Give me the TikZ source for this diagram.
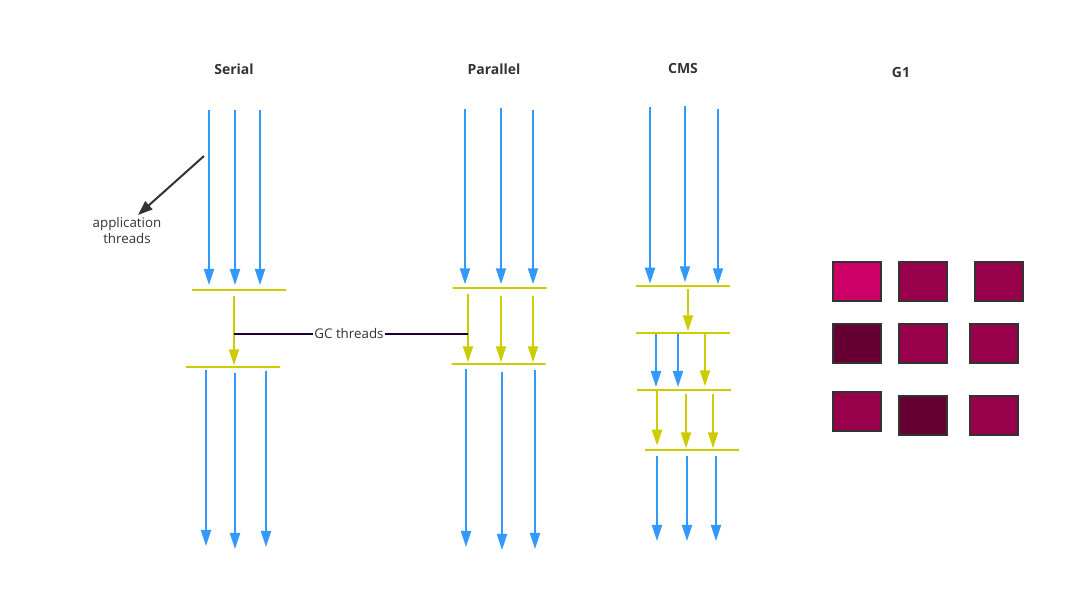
\documentclass[tikz,border=0pt]{standalone}
\usepackage{fontspec}
\setmainfont{Open Sans}
\usetikzlibrary{arrows.meta,positioning}
\definecolor{thread}{HTML}{3399FF}
\definecolor{gcline}{HTML}{CCCC00}
\definecolor{ink}{HTML}{333333}
\definecolor{gcnote}{HTML}{1A0033}
\definecolor{regionA}{HTML}{CC0066}
\definecolor{regionB}{HTML}{99004C}
\definecolor{regionC}{HTML}{660033}

\begin{document}
\begin{tikzpicture}[x=0.75pt,y=-0.75pt,>={Triangle[length=12pt,width=7.5pt]},font=\fontsize{10}{12}\selectfont,text=ink]
		\tikzstyle{title}=[font=\bfseries\fontsize{10.5}{12}\selectfont]
		\tikzstyle{app}=[->, thread, line width=1.5pt]
		\tikzstyle{gc}=[->, gcline, line width=1.5pt]
		\tikzstyle{bar}=[draw=gcline, line width=1.5pt, minimum height=0pt, inner sep=0pt, minimum width=70.5pt]
		\tikzstyle{region}=[rectangle, draw=ink, line width=1.5pt, inner sep=0pt, outer sep=0pt, minimum width=36pt, minimum height=29.25pt]

		\useasboundingbox (0,0) rectangle (1086,609);

		% titles
		\node [title] (serial) at (234,69) {Serial};
		\node [title] (parallel) at (494,69) {Parallel};
		\node [title] (cms) at (683,69) {CMS};
		\node [title] (g1) at (901,73) {G1};

		% serial
		\coordinate (s1) at (209,110);
		\coordinate (s2) at (235,110);
		\coordinate (s3) at (260,110);
		\node [bar] (sbar1) at (239,290) {};
		\coordinate (sg1) at (234,366);
		\node [bar] (sbar2) at (233,367) {};
		\coordinate (s4) at (206,546);
		\coordinate (s5) at (235,549);
		\coordinate (s6) at (266,547);
		\draw [app, shorten >=3pt] (s1) -- (s1 |- sbar1.north);
		\draw [app, shorten >=3pt] (s2) -- (s2 |- sbar1.north);
		\draw [app, shorten >=3pt] (s3) -- (s3 |- sbar1.north);
		\draw [gc, shorten <=3.5pt, shorten >=0.5pt] (sg1 |- sbar1.south) -- (sg1 |- sbar2.north);
		\draw [app, shorten <=1.5pt] (s4 |- sbar2.south) -- (s4);
		\draw [app, shorten <=4pt] (s5 |- sbar2.south) -- (s5);
		\draw [app, shorten <=2pt] (s6 |- sbar2.south) -- (s6);

		% application threads
		\coordinate (appfrom) at (204,156);
		\coordinate (apptip) at (138,215);
		\node [align=center] (applbl) at (127,231) {application\\threads};
		\draw [->, ink, line width=1.5pt, >={Triangle[length=11pt,width=8pt]}] (appfrom) -- (apptip);

		% parallel
		\coordinate (p1) at (465,109);
		\coordinate (p2) at (501,108);
		\coordinate (p3) at (533,110);
		\node [bar] (pbar1) at (499.5,288) {};
		\coordinate (pg1) at (468,364);
		\coordinate (pg2) at (501,364);
		\coordinate (pg3) at (533,364);
		\node [bar] (pbar2) at (498.5,364) {};
		\coordinate (p4) at (466,547);
		\coordinate (p5) at (502,550);
		\coordinate (p6) at (535,549);
		\draw [app, shorten >=2pt] (p1) -- (p1 |- pbar1.north);
		\draw [app, shorten >=2pt] (p2) -- (p2 |- pbar1.north);
		\draw [app, shorten >=2pt] (p3) -- (p3 |- pbar1.north);
		\draw [gc, shorten <=3.5pt, shorten >=0.5pt] (pg1 |- pbar1.south) -- (pg1 |- pbar2.north);
		\draw [gc, shorten <=5pt, shorten >=0.5pt] (pg2 |- pbar1.south) -- (pg2 |- pbar2.north);
		\draw [gc, shorten <=5pt, shorten >=0.5pt] (pg3 |- pbar1.south) -- (pg3 |- pbar2.north);
		\draw [app, shorten <=3pt] (p4 |- pbar2.south) -- (p4);
		\draw [app, shorten <=5pt] (p5 |- pbar2.south) -- (p5);
		\draw [app, shorten <=4pt] (p6 |- pbar2.south) -- (p6);

		% GC threads
		\node [fill=white, inner sep=1pt] (gclbl) at (349,334) {GC threads};
		\draw [gcnote, line width=1.5pt] (gclbl) -- (sg1 |- gclbl);
		\draw [gcnote, line width=1.5pt] (gclbl) -- (pg1 |- gclbl);

		% cms
		\coordinate (c1) at (650,107);
		\coordinate (c2) at (685,106);
		\coordinate (c3) at (718,109);
		\node [bar] (cbar1) at (683,286) {};
		\coordinate (cg1) at (688,333);
		\node [bar] (cbar2) at (683,333) {};
		\coordinate (c4) at (656,390);
		\coordinate (c5) at (678,390);
		\coordinate (cg2) at (705,390);
		\node [bar] (cbar3) at (684,390) {};
		\coordinate (cg3) at (657,450);
		\coordinate (cg4) at (686,450);
		\coordinate (cg5) at (713,450);
		\node [bar] (cbar4) at (692,450) {};
		\coordinate (c6) at (657,541);
		\coordinate (c7) at (687,541);
		\coordinate (c8) at (716,541);
		\draw [app, shorten >=1pt] (c1) -- (c1 |- cbar1.north);
		\draw [app, shorten >=2pt] (c2) -- (c2 |- cbar1.north);
		\draw [app, shorten >=0.5pt] (c3) -- (c3 |- cbar1.north);
		\draw [gc, shorten <=1.5pt, shorten >=0.5pt] (cg1 |- cbar1.south) -- (cg1 |- cbar2.north);
		\draw [app, shorten >=1.5pt] (c4 |- cbar2.south) -- (c4 |- cbar3.north);
		\draw [app, shorten >=1.5pt] (c5 |- cbar2.south) -- (c5 |- cbar3.north);
		\draw [gc, shorten >=2pt] (cg2 |- cbar2.south) -- (cg2 |- cbar3.north);
		\draw [gc, shorten >=2.5pt] (cg3 |- cbar3.south) -- (cg3 |- cbar4.north);
		\draw [gc, shorten <=2pt, shorten >=0.5pt] (cg4 |- cbar3.south) -- (cg4 |- cbar4.north);
		\draw [gc, shorten <=2pt, shorten >=0.5pt] (cg5 |- cbar3.south) -- (cg5 |- cbar4.north);
		\draw [app, shorten <=3.5pt] (c6 |- cbar4.south) -- (c6);
		\draw [app, shorten <=3.5pt] (c7 |- cbar4.south) -- (c7);
		\draw [app, shorten <=3.5pt] (c8 |- cbar4.south) -- (c8);

		% g1 regions
		\node [region, fill=regionA] (r11) at (857,281.5) {};
		\node [region, fill=regionB] (r12) [right=13.5pt of r11] {};
		\node [region, fill=regionB] (r13) [right=21pt of r12] {};
		\node [region, fill=regionC] (r21) [below=17.25pt of r11] {};
		\node [region, fill=regionB] (r22) [below=17.25pt of r12] {};
		\node [region, fill=regionB] (r23) [right=17.25pt of r22] {};
		\node [region, fill=regionB] (r31) [below=21.75pt of r21] {};
		\node [region, fill=regionC] (r32) [below=24.75pt of r22] {};
		\node [region, fill=regionB] (r33) [below=24.75pt of r23] {};
	\end{tikzpicture}
\end{document}
